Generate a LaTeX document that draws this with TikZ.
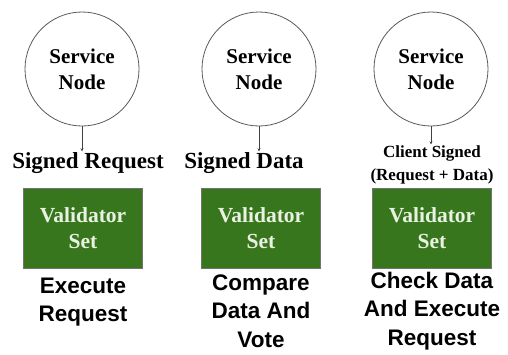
\documentclass[tikz,border=0pt]{standalone}
\usepackage{fontspec}
\setmainfont{Liberation Serif}
\newfontfamily\sansf{Liberation Sans}
\usetikzlibrary{arrows.meta}
\definecolor{boxgreen}{HTML}{38761D}
\definecolor{boxtext}{HTML}{E8F1E2}
\begin{document}
\begin{tikzpicture}[x=1pt,y=1pt,
 svc/.style={circle,draw=black!65,line width=0.8pt,minimum size=114pt,inner sep=0pt,align=center,font=\bfseries\fontsize{21}{26}\selectfont},
 valset/.style={rectangle,fill=boxgreen,draw=black!55,line width=0.6pt,minimum width=119pt,minimum height=80pt,inner sep=0pt,align=center,text=boxtext,font=\bfseries\fontsize{21.5}{26}\selectfont},
 msg/.style={align=center,inner sep=1pt,font=\bfseries\fontsize{23}{26}\selectfont},
 msgsmall/.style={align=center,inner sep=1pt,font=\bfseries\fontsize{17}{23.5}\selectfont},
 act/.style={align=center,inner sep=0pt,font=\sansf\bfseries\fontsize{22.5}{28.5}\selectfont},
 link/.style={draw=black!75,line width=0.8pt,-{Stealth[length=3pt,width=3pt]}}
]
\useasboundingbox (0,0) rectangle (508,-354);
% column 1
\node[svc] (s1) at (82,-69) {Service\\Node};
\node[msg] (m1) at (88,-163) {Signed Request};
\node[valset] (v1) at (83,-228) {Validator\\Set};
\node[act] (a1) at (83,-302) {Execute\\Request};
\draw[link] (s1.south) -- (m1.north -| s1.south);
% column 2
\node[svc] (s2) at (259,-69) {Service\\Node};
\node[msg] (m2) at (244,-163) {Signed Data};
\node[valset] (v2) at (261,-228) {Validator\\Set};
\node[act] (a2) at (261,-311) {Compare\\Data And\\Vote};
\draw[link] (s2.south) -- (m2.north -| s2.south);
% column 3
\node[svc] (s3) at (431,-69) {Service\\Node};
\node[msgsmall] (m3) at (432,-165) {Client Signed\\(Request + Data)};
\node[valset] (v3) at (432,-228) {Validator\\Set};
\node[act] (a3) at (432,-311) {Check Data\\And Execute\\Request};
\draw[link] (s3.south) -- (m3.north -| s3.south);
\end{tikzpicture}
\end{document}
